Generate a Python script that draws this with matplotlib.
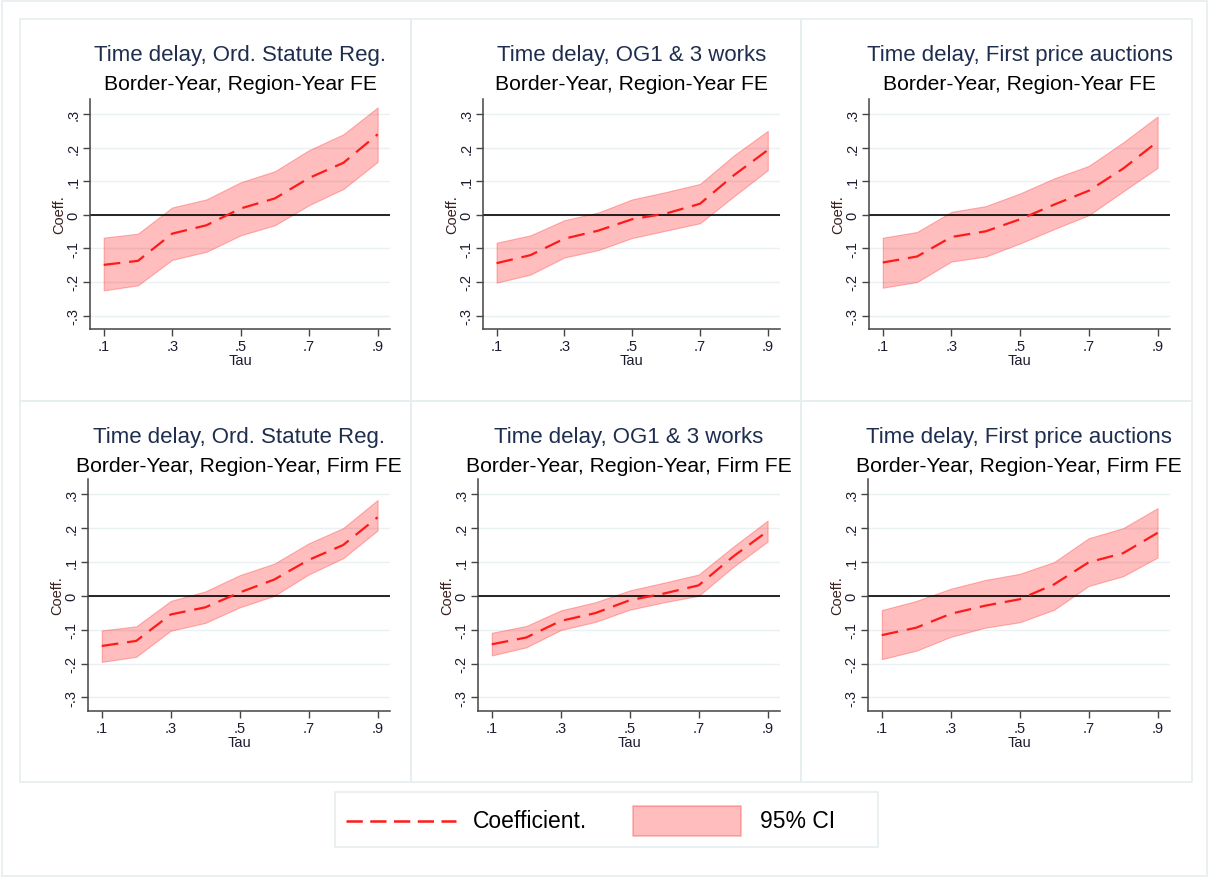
import numpy as np
import matplotlib
matplotlib.use("Agg")
import matplotlib.pyplot as plt
from matplotlib.patches import Rectangle
from matplotlib.lines import Line2D

plt.rcParams['font.family'] = ['Liberation Sans', 'DejaVu Sans']

# --- data ---
tau = [0.1, 0.2, 0.3, 0.4, 0.5, 0.6, 0.7, 0.8, 0.9]

titles = ["Time delay, Ord. Statute Reg.", "Time delay, OG1 & 3 works",
          "Time delay, First price auctions"] * 2
subtitles = ["Border-Year, Region-Year FE"] * 3 + ["Border-Year, Region-Year, Firm FE"] * 3

coef = [
    [-0.149, -0.137, -0.056, -0.031, 0.019, 0.049, 0.110, 0.155, 0.240],
    [-0.144, -0.120, -0.071, -0.047, -0.013, 0.004, 0.033, 0.118, 0.193],
    [-0.142, -0.124, -0.066, -0.049, -0.013, 0.031, 0.072, 0.138, 0.218],
    [-0.148, -0.133, -0.055, -0.034, 0.010, 0.048, 0.106, 0.150, 0.232],
    [-0.143, -0.123, -0.074, -0.051, -0.013, 0.007, 0.031, 0.116, 0.191],
    [-0.116, -0.094, -0.053, -0.029, -0.010, 0.034, 0.099, 0.126, 0.186],
]
ci_hi = [
    [-0.068, -0.056, 0.022, 0.046, 0.097, 0.130, 0.193, 0.240, 0.320],
    [-0.083, -0.061, -0.016, 0.007, 0.046, 0.068, 0.092, 0.177, 0.250],
    [-0.068, -0.051, 0.009, 0.026, 0.064, 0.109, 0.146, 0.216, 0.293],
    [-0.102, -0.090, -0.015, 0.013, 0.061, 0.095, 0.155, 0.200, 0.283],
    [-0.109, -0.089, -0.043, -0.019, 0.016, 0.039, 0.063, 0.145, 0.222],
    [-0.042, -0.015, 0.021, 0.047, 0.065, 0.100, 0.170, 0.200, 0.259],
]
ci_lo = [
    [-0.225, -0.210, -0.134, -0.110, -0.061, -0.031, 0.029, 0.077, 0.158],
    [-0.202, -0.178, -0.127, -0.105, -0.069, -0.047, -0.025, 0.055, 0.133],
    [-0.217, -0.200, -0.139, -0.124, -0.085, -0.042, -0.001, 0.070, 0.140],
    [-0.195, -0.180, -0.103, -0.080, -0.034, 0.000, 0.063, 0.111, 0.193],
    [-0.176, -0.152, -0.101, -0.077, -0.041, -0.019, 0.000, 0.085, 0.160],
    [-0.187, -0.162, -0.121, -0.094, -0.078, -0.041, 0.029, 0.058, 0.113],
]

xticks = [0.1, 0.3, 0.5, 0.7, 0.9]
xticklabels = [".1", ".3", ".5", ".7", ".9"]
yticks = [-0.3, -0.2, -0.1, 0, 0.1, 0.2, 0.3]
yticklabels = ["-.3", "-.2", "-.1", "0", ".1", ".2", ".3"]

W, H = 1210, 879
fig = plt.figure(figsize=(W / 100, H / 100), dpi=100)

box_col = "#e6eef0"
title_col = "#1f2d4e"
fill_col = (1.0, 0.0, 0.0, 0.26)
edge_col = (1.0, 0.2, 0.2, 0.35)


def px_rect(x0, y0, x1, y1):
    return [x0 / W, 1 - y1 / H, (x1 - x0) / W, (y1 - y0) / H]


# outer frame and panel boxes
fig.patches.append(Rectangle((2 / W, 1 - 877 / H), 1205 / W, 875 / H,
                             transform=fig.transFigure, fill=False,
                             edgecolor=box_col, lw=1.2))
cols = [(20, 411), (411, 801), (801, 1192)]
rows = [(20, 402), (402, 783)]
for (y0, y1) in rows:
    for (x0, x1) in cols:
        r = px_rect(x0, y0, x1, y1)
        fig.patches.append(Rectangle((r[0], r[1]), r[2], r[3],
                                     transform=fig.transFigure, fill=False,
                                     edgecolor=box_col, lw=1.2))

axes_px = [(90, 100, 390, 330), (483, 100, 780, 330), (869, 100, 1170, 330),
           (88, 480, 390, 712), (478, 480, 780, 712), (868, 480, 1170, 712)]

for i, (x0, y0, x1, y1) in enumerate(axes_px):
    ax = fig.add_axes(px_rect(x0, y0, x1, y1))
    ax.fill_between(tau, ci_lo[i], ci_hi[i], facecolor=fill_col,
                    edgecolor=edge_col, lw=0.8, zorder=2)
    ax.plot(tau, coef[i], color="#ff1a1a", lw=1.6, dashes=(7.5, 4), zorder=3)
    ax.axhline(0, color="black", lw=1.2, zorder=2.5)

    ax.set_xlim(0.06, 0.936)
    ax.set_ylim(-0.34, 0.345)
    ax.set_xticks(xticks)
    ax.set_xticklabels(xticklabels)
    ax.set_yticks(yticks)
    ax.set_yticklabels(yticklabels, rotation=90, va="center")
    ax.tick_params(axis="both", labelsize=10.5, length=5, width=1,
                   color="#444444", labelcolor="#1c1c30", pad=2)
    ax.grid(axis="y", color="#eaf1f3", lw=1)
    ax.set_axisbelow(True)
    for s in ["top", "right"]:
        ax.spines[s].set_visible(False)
    for s in ["left", "bottom"]:
        ax.spines[s].set_color("#444444")
        ax.spines[s].set_linewidth(1.1)
    ax.set_xlabel("Tau", fontsize=10.5, color="#1c1c30", labelpad=0)
    ax.set_ylabel("Coeff.", fontsize=10.5, color="#3a1f1f", labelpad=0)

    cx = (x0 + x1) / 2 / W
    ty = 56 if i < 3 else 438
    fig.text(cx, 1 - ty / H, titles[i], ha="center", va="center",
             fontsize=16, color=title_col)
    fig.text(cx, 1 - (ty + 28) / H, subtitles[i], ha="center", va="center",
             fontsize=15.2, color="black")

# legend
lr = px_rect(335, 793, 878, 848)
fig.patches.append(Rectangle((lr[0], lr[1]), lr[2], lr[3],
                             transform=fig.transFigure, fill=False,
                             edgecolor=box_col, lw=1.2))
ly = 1 - 822 / H
fig.lines.append(Line2D([346 / W, 456 / W], [ly, ly], transform=fig.transFigure,
                        color="#ff1a1a", lw=1.8, dashes=(6.5, 3)))
fig.text(473 / W, ly, "Coefficient.", ha="left", va="center",
         fontsize=16.5, color="black")
cr = px_rect(633, 807, 741, 837)
fig.patches.append(Rectangle((cr[0], cr[1]), cr[2], cr[3],
                             transform=fig.transFigure, facecolor=fill_col,
                             edgecolor=edge_col, lw=1.2))
fig.text(760 / W, ly, "95% CI", ha="left", va="center",
         fontsize=16.5, color="black")

fig.savefig("out.png", dpi=100, facecolor="white")
